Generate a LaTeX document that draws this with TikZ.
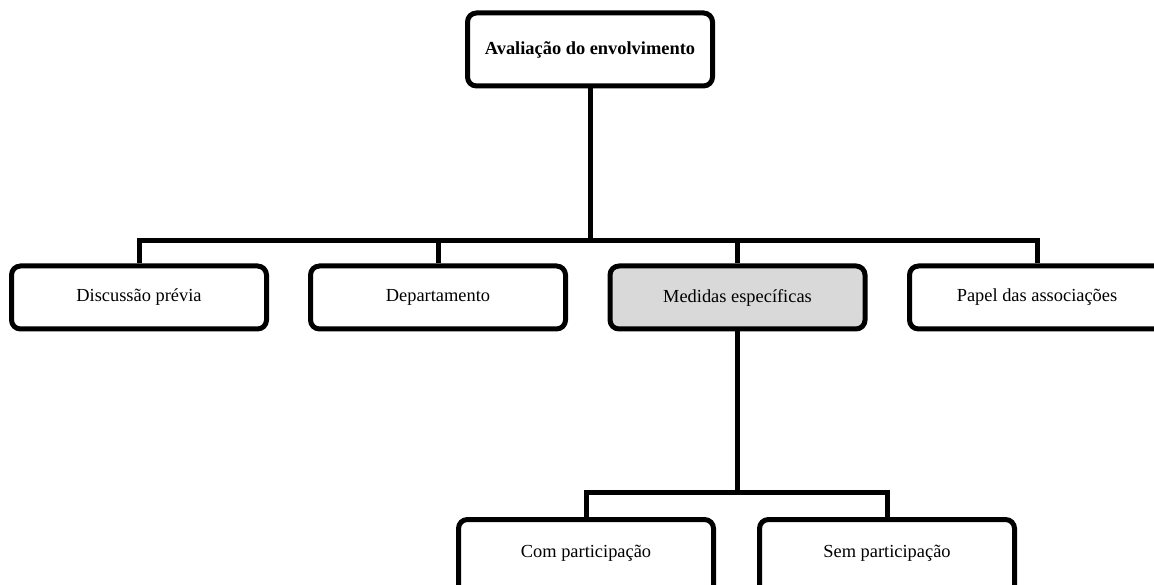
\documentclass[tikz,border=0pt]{standalone}
\usepackage{fontspec}
\setmainfont{Liberation Serif}
\usetikzlibrary{calc}
\begin{document}
\begin{tikzpicture}[x=1pt,y=-1pt,
  box/.style={draw=black, line width=5pt, rounded corners=9pt, fill=white,
    minimum width=255pt, minimum height=63pt, inner sep=0pt,
    font=\fontsize{18.4}{22}\selectfont},
  tallbox/.style={box, minimum height=90pt, anchor=north},
  link/.style={draw=black, line width=5pt}
]
\useasboundingbox (0,0) rectangle (1154,585);
\clip (0,0) rectangle (1154,585);

% root
\node[box, minimum width=245pt, minimum height=73pt, font=\fontsize{18.4}{22}\selectfont\bfseries]
  (root) at (590,49.5) {Avaliação do envolvimento};

% first level
\node[box] (disc) at (139,297.5) {Discussão prévia};
\node[box] (dep)  at (438,297.5) {Departamento};
\node[box, fill={rgb,255:red,217;green,217;blue,217}] (med) at (737.5,297.5) {Medidas específicas};
\node[box] (pap)  at (1037,297.5) {Papel das associações};

% second level (running past the lower edge of the page)
\node[tallbox] (com) at (586,517) {\raisebox{26pt}{Com participação}};
\node[tallbox] (sem) at (887,517) {\raisebox{26pt}{Sem participação}};

% junctions
\coordinate (j1) at (590,241);
\coordinate (j2) at (737.5,492);

% connectors
\draw[link] (root.south) -- (j1);
\draw[link] (j1) -| (disc.north);
\draw[link] (j1) -| (dep.north);
\draw[link] (j1) -| (med.north);
\draw[link] (j1) -| (pap.north);

\draw[link] (med.south) -- (j2);
\draw[link] (j2) -| (com.north);
\draw[link] (j2) -| (sem.north);
\end{tikzpicture}
\end{document}
